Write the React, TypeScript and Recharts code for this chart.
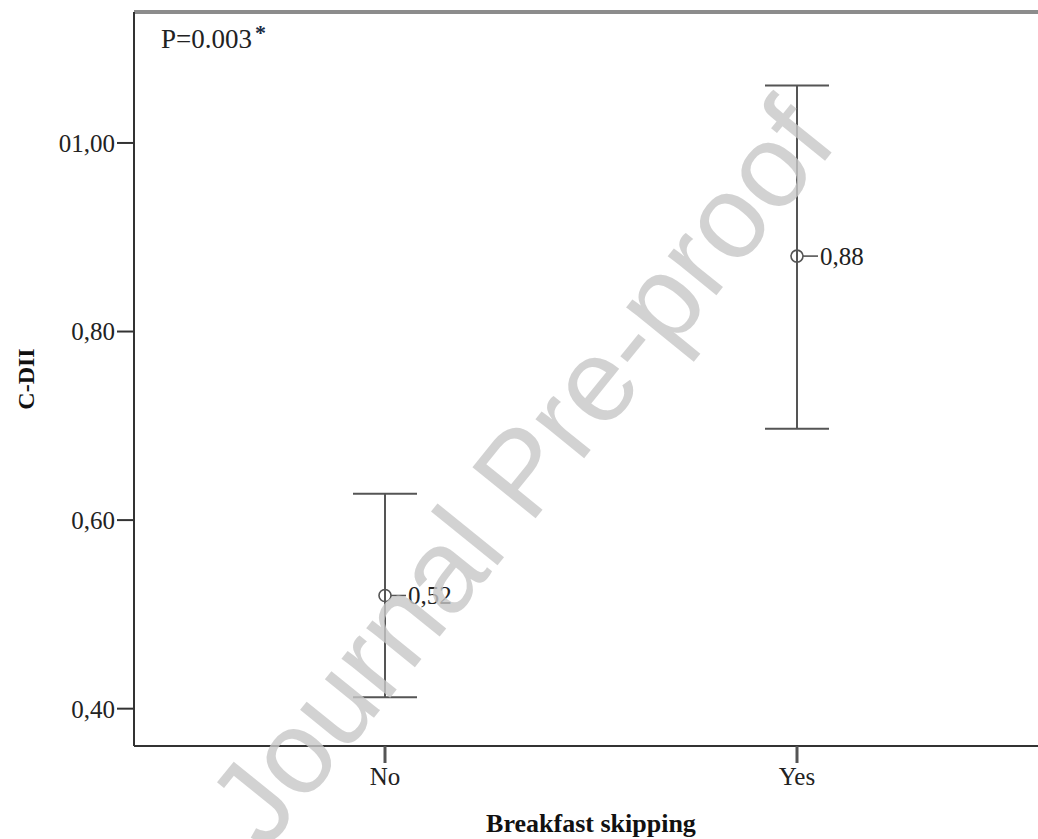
import React from 'react';
import {
  ComposedChart,
  Line,
  XAxis,
  YAxis,
  ErrorBar,
  LabelList,
  ReferenceLine,
  Label,
} from 'recharts';

// breakfast skipping groups
const categories = ['No', 'Yes'];
const means = [0.52, 0.88];
const lowerCI = [0.412, 0.697];
const upperCI = [0.628, 1.061];

const yTicks = [0.4, 0.6, 0.8, 1.0];
const yTickLabels = ['0,40', '0,60', '0,80', '01,00'];

const Y_MIN = 0.3604;
const Y_MAX = 1.1389;

const data = categories.map((name, i) => ({
  name,
  mean: means[i],
  ci: [means[i] - lowerCI[i], upperCI[i] - means[i]],
}));

const serif = '"Liberation Serif", "Times New Roman", serif';

const MeanDot = (props: any) => {
  const { cx, cy } = props;
  if (cx == null || cy == null) return null;
  return <circle cx={cx} cy={cy} r={6} fill="none" stroke="#555" strokeWidth={1.6} />;
};

const MeanLabel = (props: any) => {
  const { x, y, value } = props;
  return (
    <g>
      <line x1={x + 6} y1={y} x2={x + 21} y2={y} stroke="#555" strokeWidth={1.6} />
      <text x={x + 23} y={y} dy="0.35em" fontFamily={serif} fontSize={25} fill="#222">
        {Number(value).toFixed(2).replace('.', ',')}
      </text>
    </g>
  );
};

const App: React.FC = () => {
  return (
    <div
      style={{
        position: 'absolute',
        left: 0,
        top: 0,
        width: 1038,
        height: 839,
        overflow: 'hidden',
        background: '#fff',
      }}
    >
      <ComposedChart
        width={1060}
        height={839}
        data={data}
        margin={{ top: 12, right: 12, left: 0, bottom: 0 }}
      >
        <XAxis
          dataKey="name"
          padding={{ left: 251, right: 251 }}
          height={93}
          axisLine={{ stroke: '#333', strokeWidth: 2 }}
          tickLine={{ stroke: '#555', strokeWidth: 3 }}
          tickSize={17}
          tickMargin={4}
          tick={{ fontFamily: serif, fontSize: 25, fill: '#222' }}
        >
          <Label
            value="Breakfast skipping"
            position="insideBottom"
            offset={7}
            style={{ fontFamily: serif, fontSize: 26, fontWeight: 'bold', fill: '#111' }}
          />
        </XAxis>
        <YAxis
          type="number"
          domain={[Y_MIN, Y_MAX]}
          allowDataOverflow
          ticks={yTicks}
          tickFormatter={(v: number) => yTickLabels[yTicks.indexOf(v)] ?? String(v)}
          width={134}
          axisLine={{ stroke: '#333', strokeWidth: 2 }}
          tickLine={{ stroke: '#333', strokeWidth: 2 }}
          tickSize={17}
          tickMargin={2}
          tick={{ fontFamily: serif, fontSize: 25, fill: '#222' }}
        >
          <Label
            value="C-DII"
            angle={-90}
            position="center"
            dx={-42}
            style={{ fontFamily: serif, fontSize: 24, fontWeight: 'bold', fill: '#111' }}
          />
        </YAxis>
        <ReferenceLine y={Y_MAX} stroke="#8c8c8c" strokeWidth={4} />
        <Line
          dataKey="mean"
          stroke="none"
          isAnimationActive={false}
          dot={<MeanDot />}
          activeDot={false}
        >
          <ErrorBar dataKey="ci" direction="y" width={32} stroke="#555" strokeWidth={2} />
          <LabelList dataKey="mean" content={<MeanLabel />} />
        </Line>
      </ComposedChart>
      <div
        style={{
          position: 'absolute',
          left: 161,
          top: 24,
          fontFamily: serif,
          fontSize: 27,
          color: '#222',
        }}
      >
        P=0.003
        <span
          style={{
            fontSize: 22,
            fontWeight: 'bold',
            position: 'relative',
            top: -8,
            marginLeft: 3,
            color: '#1a2a44',
          }}
        >
          *
        </span>
      </div>
      <svg
        width={1038}
        height={839}
        style={{ position: 'absolute', left: 0, top: 0, pointerEvents: 'none' }}
      >
        <text
          x={528}
          y={478}
          textAnchor="middle"
          dominantBaseline="middle"
          transform="rotate(-51 528 478)"
          fontFamily='"Liberation Sans", Arial, sans-serif'
          fontSize={118}
          fill="#c8c8c8"
          opacity={0.8}
        >
          Journal Pre-proof
        </text>
      </svg>
    </div>
  );
};

export default App;
